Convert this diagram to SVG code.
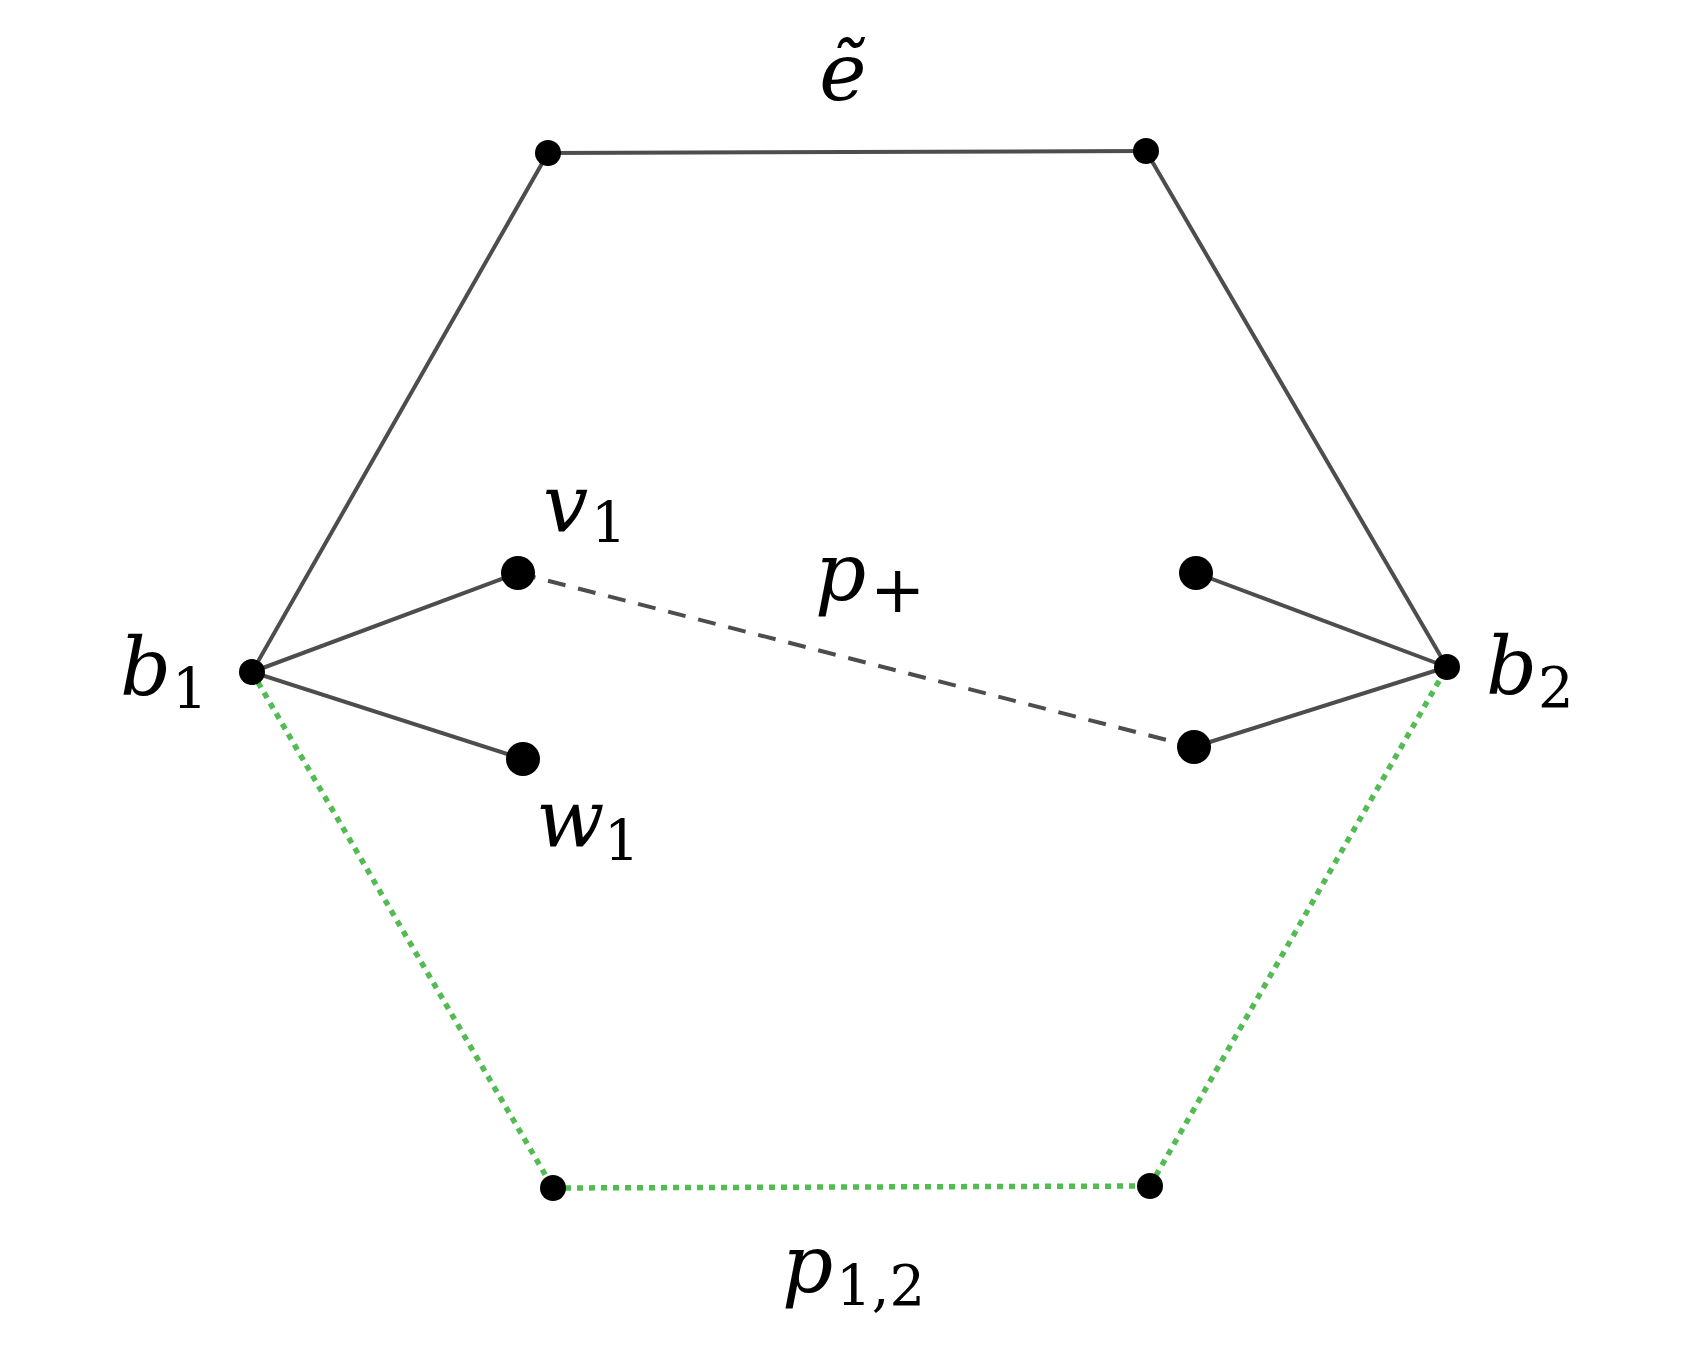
<svg xmlns="http://www.w3.org/2000/svg" width="1708" height="1369" viewBox="0 0 1708 1369">
<style>
.e{stroke:#4d4d4d;stroke-width:4;fill:none;stroke-linecap:round}
.d{stroke:#4d4d4d;stroke-width:4;fill:none;stroke-dasharray:18 13}
.g{stroke:#52bb52;stroke-width:5.5;fill:none;stroke-dasharray:6 6}
.n{fill:#000}
.m{font-family:"DejaVu Serif","Liberation Serif",serif;font-style:italic;font-size:80px;fill:#000}
.s{font-family:"DejaVu Serif","Liberation Serif",serif;font-style:normal;font-size:56px}
</style>
<rect width="1708" height="1369" fill="#fff"/>
<g id="connectors">
<line class="e" x1="548" y1="153" x2="1146" y2="151"/>
<line class="e" x1="548" y1="153" x2="252" y2="672"/>
<line class="e" x1="1146" y1="151" x2="1447" y2="667"/>
<line class="e" x1="252" y1="672" x2="518" y2="573"/>
<line class="e" x1="252" y1="672" x2="523" y2="759"/>
<line class="e" x1="1447" y1="667" x2="1196" y2="573"/>
<line class="e" x1="1447" y1="667" x2="1194" y2="747"/>
<line class="d" x1="518" y1="573" x2="1194" y2="747"/>
<line class="g" x1="252" y1="672" x2="553" y2="1188"/>
<line class="g" x1="553" y1="1188" x2="1150" y2="1186"/>
<line class="g" x1="1150" y1="1186" x2="1447" y2="667"/>
</g>
<g id="node-top-left"><circle class="n" cx="548" cy="153" r="13"/></g>
<g id="node-top-right"><circle class="n" cx="1146" cy="151" r="13"/></g>
<g id="node-b1"><circle class="n" cx="252" cy="672" r="13"/>
<text class="m" x="120" y="695">b<tspan class="s" x="172" y="708">1</tspan></text></g>
<g id="node-b2"><circle class="n" cx="1447" cy="667" r="13"/>
<text class="m" x="1486" y="694">b<tspan class="s" x="1538" y="707">2</tspan></text></g>
<g id="node-v1"><circle class="n" cx="518" cy="573" r="17"/>
<text class="m" x="543" y="532">v<tspan class="s" x="591" y="542">1</tspan></text></g>
<g id="node-w1"><circle class="n" cx="523" cy="759" r="17"/>
<text class="m" x="536" y="847">w<tspan class="s" x="604" y="860">1</tspan></text></g>
<g id="node-r1"><circle class="n" cx="1196" cy="573" r="17"/></g>
<g id="node-r2"><circle class="n" cx="1194" cy="747" r="17"/></g>
<g id="node-bottom-left"><circle class="n" cx="553" cy="1188" r="13"/></g>
<g id="node-bottom-right"><circle class="n" cx="1150" cy="1186" r="13"/></g>
<g id="labels">
<text class="m" x="843" y="100" text-anchor="middle">ẽ</text>
<text class="m" x="815" y="600">p<tspan class="s" x="870" y="612" style="font-size:66px">+</tspan></text>
<text class="m" x="782" y="1292">p<tspan class="s" x="836" y="1305">1,2</tspan></text>
</g>
</svg>
